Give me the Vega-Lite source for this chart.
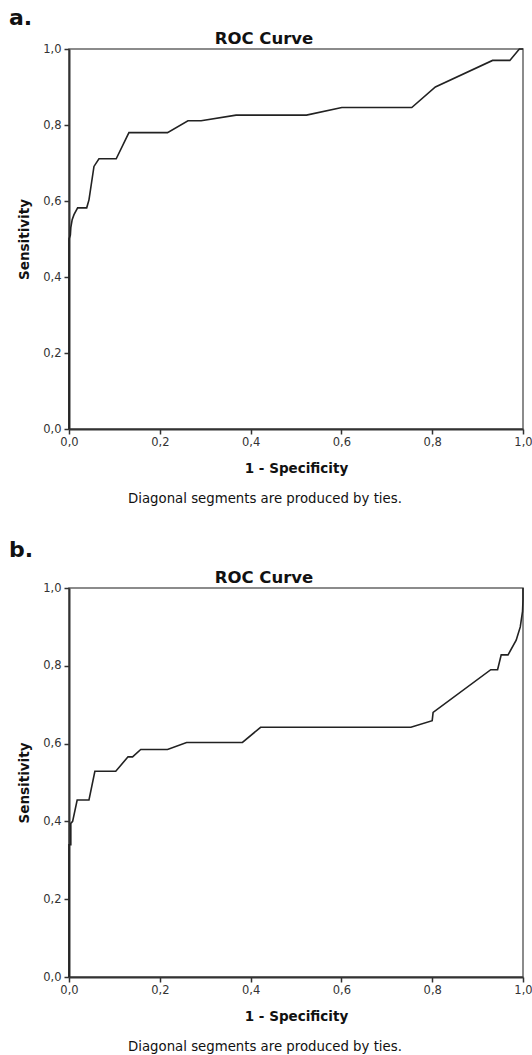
{
  "$schema": "https://vega.github.io/schema/vega-lite/v6.json",
  "padding": {"left": 8, "top": 6, "right": 5, "bottom": 0},
  "background": "white",
  "spacing": 32,
  "datasets": {
    "a": [
      {"i": 0, "fpr": 0, "tpr": 0},
      {"i": 1, "fpr": 0, "tpr": 0.5},
      {"i": 2, "fpr": 0.003, "tpr": 0.51},
      {"i": 3, "fpr": 0.004, "tpr": 0.53},
      {"i": 4, "fpr": 0.007, "tpr": 0.551},
      {"i": 5, "fpr": 0.011, "tpr": 0.564},
      {"i": 6, "fpr": 0.019, "tpr": 0.582},
      {"i": 7, "fpr": 0.039, "tpr": 0.582},
      {"i": 8, "fpr": 0.044, "tpr": 0.603},
      {"i": 9, "fpr": 0.055, "tpr": 0.691},
      {"i": 10, "fpr": 0.066, "tpr": 0.711},
      {"i": 11, "fpr": 0.104, "tpr": 0.711},
      {"i": 12, "fpr": 0.132, "tpr": 0.78},
      {"i": 13, "fpr": 0.217, "tpr": 0.78},
      {"i": 14, "fpr": 0.262, "tpr": 0.811},
      {"i": 15, "fpr": 0.291, "tpr": 0.811},
      {"i": 16, "fpr": 0.368, "tpr": 0.826},
      {"i": 17, "fpr": 0.523, "tpr": 0.826},
      {"i": 18, "fpr": 0.601, "tpr": 0.846},
      {"i": 19, "fpr": 0.755, "tpr": 0.846},
      {"i": 20, "fpr": 0.807, "tpr": 0.9},
      {"i": 21, "fpr": 0.933, "tpr": 0.97},
      {"i": 22, "fpr": 0.971, "tpr": 0.97},
      {"i": 23, "fpr": 0.992, "tpr": 1.0},
      {"i": 24, "fpr": 1.0, "tpr": 1.0}
    ],
    "b": [
      {"i": 0, "fpr": 0, "tpr": 0},
      {"i": 1, "fpr": 0, "tpr": 0.34},
      {"i": 2, "fpr": 0.004, "tpr": 0.34},
      {"i": 3, "fpr": 0.004, "tpr": 0.395},
      {"i": 4, "fpr": 0.008, "tpr": 0.4},
      {"i": 5, "fpr": 0.018, "tpr": 0.455},
      {"i": 6, "fpr": 0.044, "tpr": 0.455},
      {"i": 7, "fpr": 0.057, "tpr": 0.529},
      {"i": 8, "fpr": 0.103, "tpr": 0.529},
      {"i": 9, "fpr": 0.13, "tpr": 0.566},
      {"i": 10, "fpr": 0.14, "tpr": 0.566},
      {"i": 11, "fpr": 0.158, "tpr": 0.585},
      {"i": 12, "fpr": 0.217, "tpr": 0.585},
      {"i": 13, "fpr": 0.259, "tpr": 0.603},
      {"i": 14, "fpr": 0.382, "tpr": 0.603},
      {"i": 15, "fpr": 0.422, "tpr": 0.642},
      {"i": 16, "fpr": 0.753, "tpr": 0.642},
      {"i": 17, "fpr": 0.8, "tpr": 0.659},
      {"i": 18, "fpr": 0.802, "tpr": 0.68},
      {"i": 19, "fpr": 0.929, "tpr": 0.79},
      {"i": 20, "fpr": 0.944, "tpr": 0.79},
      {"i": 21, "fpr": 0.952, "tpr": 0.828},
      {"i": 22, "fpr": 0.967, "tpr": 0.828},
      {"i": 23, "fpr": 0.985, "tpr": 0.866},
      {"i": 24, "fpr": 0.994, "tpr": 0.9},
      {"i": 25, "fpr": 0.999, "tpr": 0.94},
      {"i": 26, "fpr": 1.0, "tpr": 0.97},
      {"i": 27, "fpr": 1.0, "tpr": 1.0}
    ]
  },
  "config": {
    "font": "DejaVu Sans",
    "view": {"stroke": "#666", "strokeWidth": 1.5},
    "axis": {
      "domainColor": "#333", "domainWidth": 2,
      "tickColor": "#333", "tickWidth": 1.5, "tickSize": 5,
      "labelColor": "#333", "labelFont": "DejaVu Sans", "labelFontSize": 11.5, "labelFlush": false,
      "titleFont": "DejaVu Sans", "titleFontWeight": "bold", "titleFontSize": 13.5, "titleColor": "#111",
      "grid": false
    },
    "title": {"color": "#111", "font": "DejaVu Sans"}
  },
  "vconcat": [
    {
      "title": {"text": "a.", "anchor": "start", "fontSize": 22, "fontWeight": "bold", "dx": -8, "offset": 0},
      "vconcat": [
        {
          "title": {"text": "Diagonal segments are produced by ties.", "orient": "bottom", "anchor": "middle", "fontSize": 13.3, "fontWeight": "normal", "offset": 16, "dx": -10},
          "vconcat": [
            {
              "title": {"text": "ROC Curve", "anchor": "middle", "frame": "group", "fontSize": 16.5, "fontWeight": "bold", "offset": -4, "dx": -32},
              "width": 454,
              "height": 380,
              "data": {"name": "a"},
              "mark": {"type": "line", "color": "#222", "strokeWidth": 1.6},
              "encoding": {
                "x": {"field": "fpr", "type": "quantitative", "scale": {"domain": [0, 1], "nice": false, "zero": false},
                  "axis": {"title": "1 - Specificity", "values": [0, 0.2, 0.4, 0.6, 0.8, 1], "labelExpr": "replace(format(datum.value, '.1f'), '.', ',')", "labelPadding": 2, "titlePadding": 14}},
                "y": {"field": "tpr", "type": "quantitative", "scale": {"domain": [0, 1], "nice": false, "zero": false},
                  "axis": {"title": "Sensitivity", "values": [0, 0.2, 0.4, 0.6, 0.8, 1], "labelExpr": "replace(format(datum.value, '.1f'), '.', ',')", "labelPadding": 3, "titlePadding": 11}},
                "order": {"field": "i"}
              }
            }
          ]
        }
      ]
    },
    {
      "title": {"text": "b.", "anchor": "start", "fontSize": 22, "fontWeight": "bold", "dx": -8, "offset": 7},
      "vconcat": [
        {
          "title": {"text": "Diagonal segments are produced by ties.", "orient": "bottom", "anchor": "middle", "fontSize": 13.3, "fontWeight": "normal", "offset": 16, "dx": -10},
          "vconcat": [
            {
              "title": {"text": "ROC Curve", "anchor": "middle", "frame": "group", "fontSize": 16.5, "fontWeight": "bold", "offset": -4, "dx": -32},
              "width": 454,
              "height": 389,
              "data": {"name": "b"},
              "mark": {"type": "line", "color": "#222", "strokeWidth": 1.6},
              "encoding": {
                "x": {"field": "fpr", "type": "quantitative", "scale": {"domain": [0, 1], "nice": false, "zero": false},
                  "axis": {"title": "1 - Specificity", "values": [0, 0.2, 0.4, 0.6, 0.8, 1], "labelExpr": "replace(format(datum.value, '.1f'), '.', ',')", "labelPadding": 2, "titlePadding": 14}},
                "y": {"field": "tpr", "type": "quantitative", "scale": {"domain": [0, 1], "nice": false, "zero": false},
                  "axis": {"title": "Sensitivity", "values": [0, 0.2, 0.4, 0.6, 0.8, 1], "labelExpr": "replace(format(datum.value, '.1f'), '.', ',')", "labelPadding": 3, "titlePadding": 11}},
                "order": {"field": "i"}
              }
            }
          ]
        }
      ]
    }
  ]
}
